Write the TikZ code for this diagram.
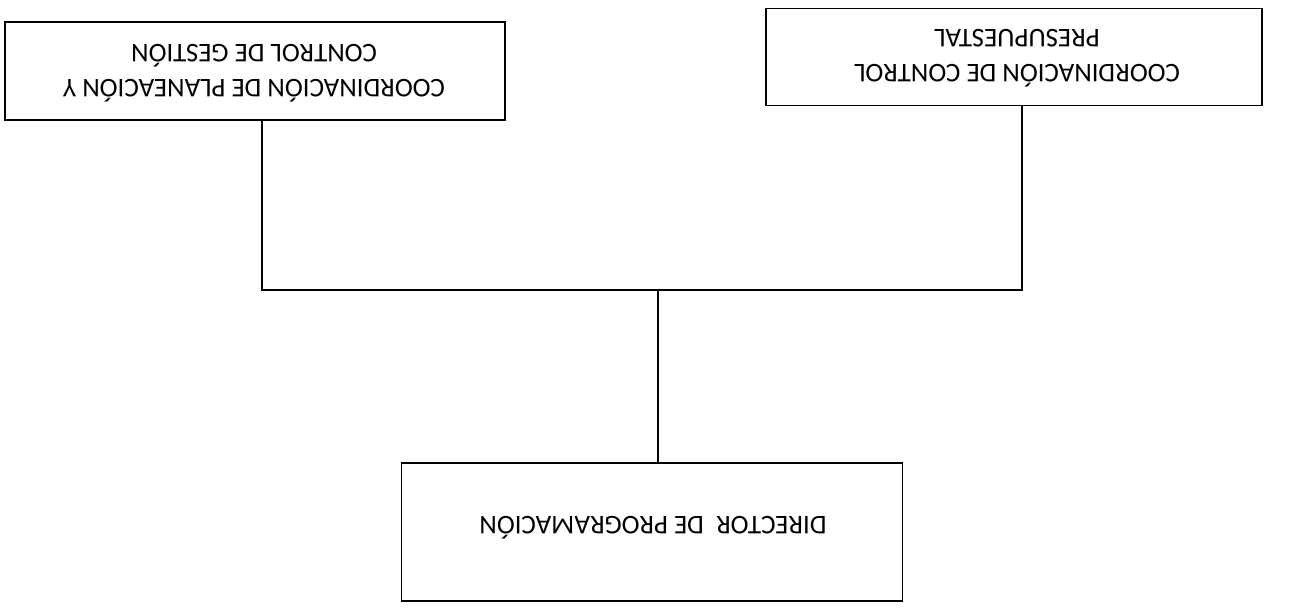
\documentclass[tikz,border=0pt]{standalone}
\usepackage{fontspec}
\setmainfont{Carlito}
\begin{document}
\begin{tikzpicture}[x=1pt,y=-1pt,
  box/.style={draw,line width=1.8pt,rectangle,inner sep=0pt},
  lbl/.style={rotate=180,align=center,font=\fontsize{27}{35}\selectfont},
  con/.style={line width=1.8pt}]
\useasboundingbox (0,0) rectangle (1295,608);
\node[box,minimum width=500pt,minimum height=98pt] (L) at (255,71) {};
\node[lbl] (Lt) at (254,73) {COORDINACIÓN DE PLANEACIÓN Y\\CONTROL DE GESTIÓN};
\node[box,minimum width=496pt,minimum height=97pt] (R) at (1014,57) {};
\node[lbl] (Rt) at (1017,58) {COORDINACIÓN DE CONTROL\\PRESUPUESTAL};
\node[box,minimum width=501pt,minimum height=138pt] (D) at (652,532) {};
\node[lbl] (Dt) at (653,528) {DIRECTOR\ \ DE PROGRAMACIÓN};
\coordinate (J) at (658,290);
\draw[con] ([xshift=7pt]L.south) |- (J) -| ([xshift=8pt]R.south);
\draw[con] (J) -- (D.north -| J);
\end{tikzpicture}
\end{document}
